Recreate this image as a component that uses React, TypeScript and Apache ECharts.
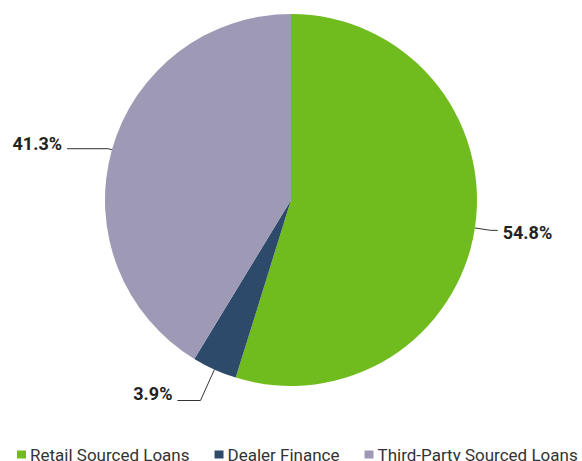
import React, { useEffect, useRef } from "react";
import * as echarts from "echarts";

const categories = ["Retail Sourced Loans", "Dealer Finance", "Third-Party Sourced Loans"];
const values = [54.8, 3.9, 41.3];
const colors = ["#70BC1F", "#2D4A6A", "#9E9AB6"];
const lineLengths = [
  [16, 7],
  [34, 23],
  [4, 41],
];
const labelPads = [
  [5, 0, 0, 0],
  [0, 0, 15, 0],
  [0, 0, 10, 0],
];

export default function App() {
  const ref = useRef<HTMLDivElement>(null);
  useEffect(() => {
    if (!ref.current) return;
    const chart = echarts.init(ref.current, null, { renderer: "svg" });
    const labelText = { fontSize: 18, fontWeight: "bold", color: "#222", fontFamily: "Roboto" };
    chart.setOption({
      animation: false,
      textStyle: { fontFamily: "Roboto" },
      legend: {
        data: categories,
        left: 17,
        top: 446,
        width: 600,
        padding: 0,
        itemWidth: 9,
        itemHeight: 8,
        itemGap: 25,
        icon: "rect",
        textStyle: { fontSize: 17, color: "#333", fontFamily: "Roboto", padding: [0, 0, 0, -1] },
      },
      series: [
        {
          type: "pie",
          center: [291, 200],
          radius: 186,
          startAngle: 90,
          clockwise: true,
          avoidLabelOverlap: false,
          label: {
            show: true,
            formatter: "{v|{c}%}",
            ...labelText,
          },
          labelLine: { show: true, lineStyle: { color: "#333", width: 1 } },
          data: categories.map((name, i) => ({
            name,
            value: values[i],
            itemStyle: { color: colors[i] },
            label: { rich: { v: { ...labelText, padding: labelPads[i] } } },
            labelLine: { length: lineLengths[i][0], length2: lineLengths[i][1] },
          })),
        },
      ],
    });
    return () => chart.dispose();
  }, []);
  return <div ref={ref} style={{ width: 582, height: 461, position: "absolute", left: 0, top: 0 }} />;
}
